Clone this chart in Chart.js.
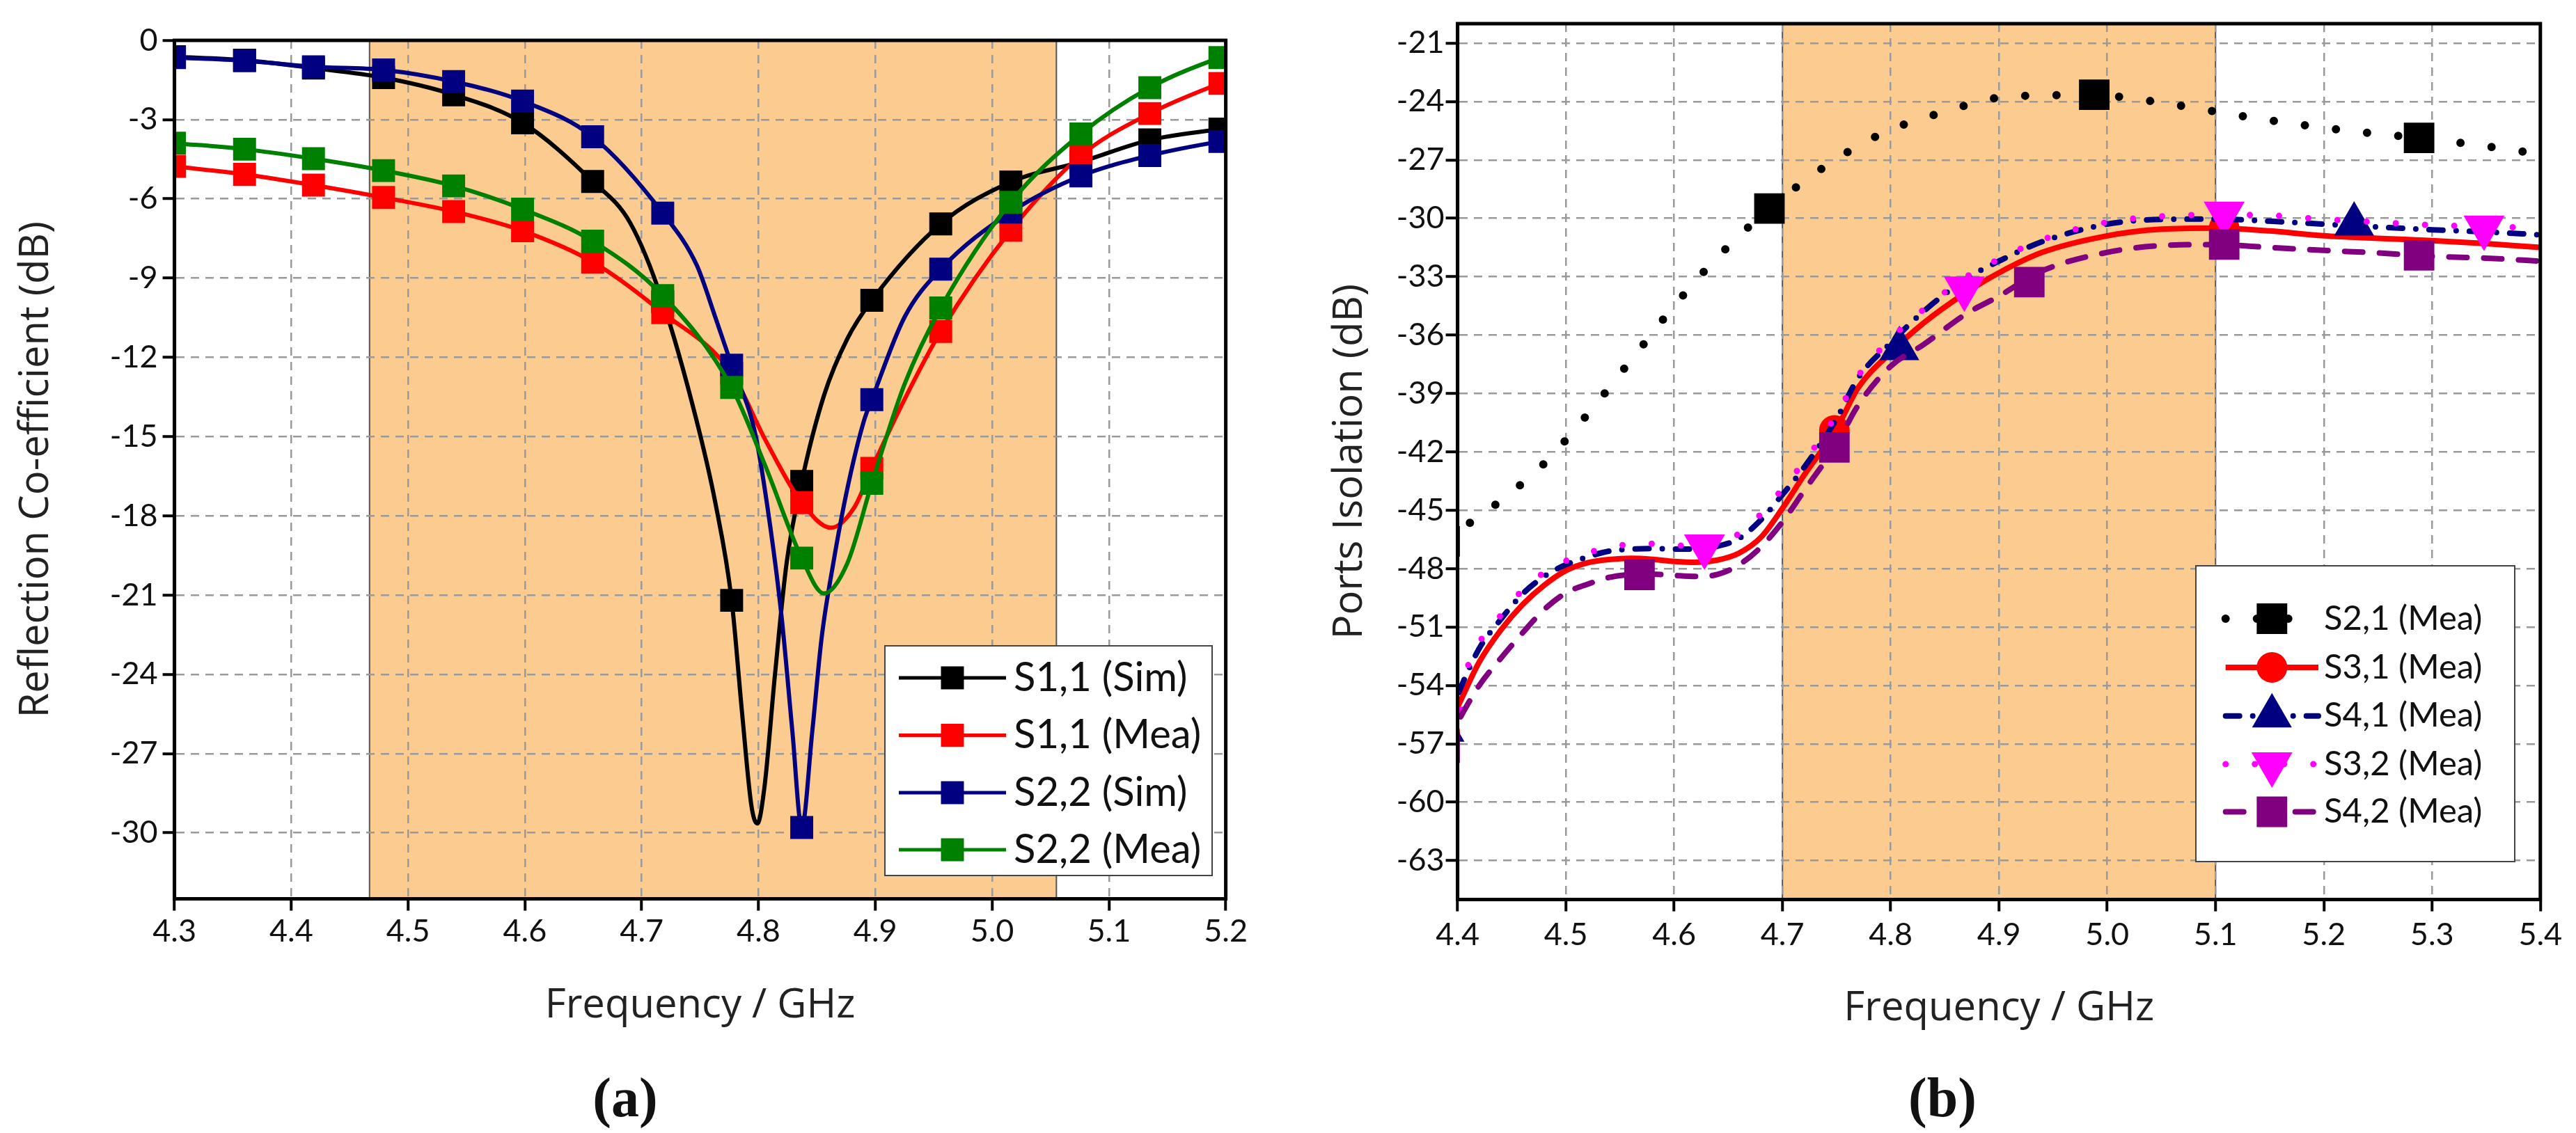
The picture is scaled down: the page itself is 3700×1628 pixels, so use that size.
<!DOCTYPE html>
<html><head><meta charset="utf-8">
<script src="https://cdn.jsdelivr.net/npm/chart.js@4/dist/chart.umd.min.js"></script>
<style>
html,body{margin:0;padding:0;background:#fff;width:3700px;height:1628px;overflow:hidden}
canvas{position:absolute;top:0}
#ca{left:0}
#cb{left:1850px}
.cap{position:absolute;font-family:'Liberation Serif','Times New Roman',serif;font-weight:bold;font-size:80px;line-height:1;color:#111;transform:translate(-50%,-50%)}
</style></head><body>
<canvas id="ca" width="1850" height="1628"></canvas>
<canvas id="cb" width="1850" height="1628"></canvas>
<div class="cap" style="left:898px;top:1577px">(a)</div>
<div class="cap" style="left:2790px;top:1577px">(b)</div>
<script>
// ---------------- Chart (a) data ----------------
const freqTicksA = [4.3,4.4,4.5,4.6,4.7,4.8,4.9,5.0,5.1,5.2];
const dbTicksA = [0,-3,-6,-9,-12,-15,-18,-21,-24,-27,-30];
const bandA = [4.467, 5.055];
const markerFreqA = [4.300,4.360,4.419,4.479,4.539,4.598,4.658,4.718,4.777,4.837,4.897,4.956,5.016,5.076,5.135,5.195];

const s11SimF  = [4.300,4.360,4.419,4.479,4.539,4.598,4.658,4.690,4.718,4.747,4.763,4.777,4.786,4.794,4.799,4.805,4.814,4.824,4.837,4.856,4.876,4.897,4.956,5.016,5.076,5.135,5.195,5.200];
const s11SimDb = [-0.62,-0.75,-1.05,-1.41,-2.06,-3.12,-5.34,-6.9,-9.9,-14.4,-17.5,-21.2,-25.5,-29.0,-29.65,-28.3,-24.05,-19.8,-16.7,-13.45,-11.3,-9.84,-6.95,-5.36,-4.6,-3.77,-3.36,-3.33];

const s11MeaF  = [4.300,4.360,4.419,4.479,4.539,4.598,4.658,4.718,4.777,4.806,4.837,4.862,4.882,4.897,4.925,4.956,5.016,5.076,5.135,5.195,5.200];
const s11MeaDb = [-4.77,-5.07,-5.48,-5.95,-6.48,-7.21,-8.39,-10.31,-12.6,-15.14,-17.5,-18.45,-17.68,-16.2,-13.59,-11.02,-7.19,-4.36,-2.77,-1.63,-1.55];

const s22SimF  = [4.300,4.360,4.419,4.479,4.539,4.598,4.658,4.718,4.747,4.763,4.777,4.797,4.810,4.820,4.829,4.837,4.846,4.854,4.864,4.876,4.890,4.897,4.925,4.956,5.016,5.076,5.135,5.195,5.200];
const s22SimDb = [-0.65,-0.77,-1.0,-1.12,-1.56,-2.30,-3.65,-6.54,-8.5,-10.48,-12.3,-14.86,-18.39,-21.92,-26.17,-29.8,-26.17,-22.63,-19.8,-16.98,-14.44,-13.6,-10.48,-8.66,-6.5,-5.13,-4.36,-3.83,-3.8];

const s22MeaF  = [4.300,4.360,4.419,4.479,4.539,4.598,4.658,4.718,4.777,4.806,4.837,4.856,4.876,4.897,4.925,4.956,5.016,5.076,5.135,5.195,5.200];
const s22MeaDb = [-3.89,-4.12,-4.48,-4.93,-5.51,-6.39,-7.60,-9.66,-13.14,-16.13,-19.6,-20.94,-19.8,-16.77,-13.02,-10.13,-6.13,-3.54,-1.79,-0.65,-0.58];

// ---------------- Chart (b) data ----------------
const freqTicksB = [4.4,4.5,4.6,4.7,4.8,4.9,5.0,5.1,5.2,5.3,5.4];
const dbTicksB = [-63,-60,-57,-54,-51,-48,-45,-42,-39,-36,-33,-30,-27,-24,-21];
const bandB = [4.7, 5.1];

const s21F  = [4.388,4.40,4.44,4.48,4.52,4.56,4.60,4.64,4.688,4.72,4.76,4.80,4.85,4.90,4.95,4.988,5.03,5.08,5.13,5.18,5.23,5.288,5.34,5.40];
const s21Db = [-46.6,-46.1,-44.5,-42.6,-40.07,-37.3,-34.5,-32.0,-29.5,-28.1,-26.6,-25.45,-24.52,-23.8,-23.68,-23.65,-23.9,-24.33,-24.8,-25.2,-25.55,-25.87,-26.22,-26.7];
const s21MarkF  = [4.388,4.688,4.988,5.288];
const s21MarkDb = [-46.6,-29.5,-23.65,-25.87];

const commonF = [4.388,4.40,4.42,4.44,4.46,4.48,4.50,4.52,4.54,4.56,4.58,4.60,4.62,4.64,4.66,4.68,4.70,4.72,4.75,4.77,4.80,4.83,4.87,4.90,4.94,5.00,5.05,5.10,5.15,5.20,5.25,5.30,5.35,5.40];
const s31Db = [-56.4,-55.1,-52.8,-51.15,-49.85,-48.85,-48.1,-47.7,-47.53,-47.47,-47.52,-47.63,-47.68,-47.56,-47.2,-46.4,-44.9,-43.2,-40.8,-38.7,-36.9,-35.4,-33.8,-32.8,-31.75,-30.9,-30.56,-30.5,-30.65,-30.9,-31.03,-31.15,-31.3,-31.5];
const s41Db = [-56.3,-54.5,-52.1,-50.6,-49.3,-48.4,-47.8,-47.4,-47.1,-47.0,-46.97,-47.0,-47.0,-46.85,-46.45,-45.5,-44.2,-42.8,-40.3,-38.2,-36.4,-34.8,-33.1,-32.2,-31.2,-30.3,-30.06,-30.04,-30.15,-30.3,-30.45,-30.59,-30.7,-30.85];
const s32Db = [-55.7,-54.2,-51.8,-50.4,-49.1,-48.2,-47.6,-47.2,-46.9,-46.75,-46.72,-46.8,-46.85,-46.7,-46.2,-45.2,-43.9,-42.5,-40.1,-38.1,-36.2,-34.7,-33.0,-32.1,-31.1,-30.2,-29.9,-29.82,-29.85,-30.05,-30.2,-30.35,-30.42,-30.5];
const s42Db = [-57.2,-55.9,-54.0,-52.6,-51.3,-50.1,-49.25,-48.8,-48.45,-48.3,-48.28,-48.35,-48.4,-48.3,-47.8,-46.9,-45.6,-44.0,-41.6,-39.6,-37.6,-36.5,-34.9,-34.0,-32.7,-31.75,-31.4,-31.35,-31.5,-31.65,-31.78,-31.95,-32.05,-32.2];

const s31MarkF  = [4.388,4.748,5.108];
const s31MarkDb = [-56.4,-40.9,-30.5];
const s41MarkF  = [4.388,4.808,5.228];
const s41MarkDb = [-56.3,-36.7,-30.3];
const s32MarkF  = [4.388,4.628,4.868,5.108,5.348];
const s32MarkDb = [-55.7,-46.85,-33.6,-29.75,-30.47];
const s42MarkF  = [4.388,4.568,4.748,4.928,5.108,5.288];
const s42MarkDb = [-57.2,-48.32,-41.77,-33.28,-31.35,-31.9];

// ---------------- helpers ----------------
const pts = (xs, ys) => xs.map((x, i) => ({x, y: ys[i]}));
const pick = (xs, ys, sel) => sel.map(f => ({x: f, y: ys[xs.findIndex(v => Math.abs(v - f) < 1e-6)]}));

function drawMarker(ctx, m, x, y) {
  ctx.save();
  ctx.fillStyle = m.color;
  ctx.beginPath();
  if (m.style === 'rect') {
    const s = m.r * Math.SQRT1_2;
    ctx.rect(x - s, y - s, 2 * s, 2 * s);
  } else if (m.style === 'circle') {
    ctx.arc(x, y, m.r, 0, Math.PI * 2);
  } else {
    let a = (m.rot || 0) * Math.PI / 180;
    for (let i = 0; i < 3; i++) {
      const px = x + Math.sin(a) * m.r, py = y - Math.cos(a) * m.r;
      if (i) ctx.lineTo(px, py); else ctx.moveTo(px, py);
      a += 2 * Math.PI / 3;
    }
    ctx.closePath();
  }
  ctx.fill();
  ctx.restore();
}

const bandPlugin = {
  id: 'band',
  beforeDraw(chart, args, o) {
    const {ctx, chartArea: a, scales: {x}} = chart;
    const x1 = x.getPixelForValue(o.from), x2 = x.getPixelForValue(o.to);
    ctx.save();
    ctx.fillStyle = '#FBCB8F';
    ctx.fillRect(x1, a.top, x2 - x1, a.bottom - a.top);
    ctx.strokeStyle = '#555';
    ctx.lineWidth = 2;
    ctx.beginPath();
    ctx.moveTo(x1, a.top); ctx.lineTo(x1, a.bottom);
    ctx.moveTo(x2, a.top); ctx.lineTo(x2, a.bottom);
    ctx.stroke();
    ctx.restore();
  }
};

const framePlugin = {
  id: 'frame',
  afterDatasetsDraw(chart) {
    const {ctx, chartArea: a} = chart;
    ctx.save();
    ctx.strokeStyle = '#000';
    ctx.lineWidth = 5;
    ctx.strokeRect(a.left, a.top, a.right - a.left, a.bottom - a.top);
    ctx.restore();
  }
};

const legendPlugin = {
  id: 'boxLegend',
  afterDraw(chart, args, o) {
    const ctx = chart.ctx;
    ctx.save();
    ctx.fillStyle = '#fff';
    ctx.fillRect(o.box[0], o.box[1], o.box[2] - o.box[0], o.box[3] - o.box[1]);
    ctx.strokeStyle = '#444';
    ctx.lineWidth = 2;
    ctx.strokeRect(o.box[0], o.box[1], o.box[2] - o.box[0], o.box[3] - o.box[1]);
    o.items.forEach((it, i) => {
      const y = o.rows[i];
      ctx.save();
      ctx.strokeStyle = it.color;
      ctx.lineWidth = it.width;
      ctx.lineCap = it.cap || 'butt';
      ctx.setLineDash(it.dash || []);
      ctx.beginPath();
      ctx.moveTo(o.lineX[0], y); ctx.lineTo(o.lineX[1], y);
      ctx.stroke();
      ctx.restore();
      drawMarker(ctx, it.marker, o.markX, y);
      ctx.fillStyle = '#111';
      ctx.font = o.font;
      ctx.textBaseline = 'middle';
      ctx.textAlign = 'left';
      ctx.fillText(it.label, o.textX, y);
    });
    ctx.restore();
  }
};

function axes(opts) {
  return {
    x: {
      type: 'linear', min: opts.xmin, max: opts.xmax,
      afterBuildTicks: ax => { ax.ticks = opts.xt.map(v => ({value: v})); },
      afterFit: ax => { ax.height = 200; },
      ticks: {callback: v => Number(v).toFixed(1), font: {family: 'Lato', size: 45}, color: '#111', padding: opts.xpad, maxRotation: 0, autoSkip: false},
      grid: {color: '#9a9a9a', lineWidth: 2.5, tickLength: 17, tickColor: '#000', tickWidth: 4},
      border: {display: true, color: '#000', width: 5, dash: [12, 9]},
      title: {display: true, text: 'Frequency / GHz', font: {family: 'Open Sans', size: 58, lineHeight: 1.2}, color: '#222', padding: {top: 0, bottom: opts.xtpad}}
    },
    y: {
      type: 'linear', min: opts.ymin, max: opts.ymax,
      afterBuildTicks: ax => { ax.ticks = opts.yt.map(v => ({value: v})); },
      afterFit: ax => { ax.width = opts.yw; },
      ticks: {callback: v => String(v), font: {family: 'Lato', size: 45}, color: '#111', padding: opts.ypad, autoSkip: false},
      grid: {color: '#9a9a9a', lineWidth: 2.5, tickLength: 17, tickColor: '#000', tickWidth: 4},
      border: {display: true, color: '#000', width: 5, dash: [12, 9]},
      title: {display: true, text: opts.ytitle, font: {family: 'Open Sans', size: 58, lineHeight: 1.2}, color: '#222', padding: {top: opts.ytpad, bottom: 0}}
    }
  };
}

// ---------------- Chart (a) ----------------
const seriesA = [
  {label: 'S1,1 (Sim)', color: '#000000', f: s11SimF, v: s11SimDb},
  {label: 'S1,1 (Mea)', color: '#FF0000', f: s11MeaF, v: s11MeaDb},
  {label: 'S2,2 (Sim)', color: '#000080', f: s22SimF, v: s22SimDb},
  {label: 'S2,2 (Mea)', color: '#008000', f: s22MeaF, v: s22MeaDb}
];
const dsA = [];
seriesA.forEach((s, k) => {
  const ord = (seriesA.length - k) * 2;
  dsA.push({type: 'line', label: s.label, data: pts(s.f, s.v), borderColor: s.color, borderWidth: 6,
    pointRadius: 0, cubicInterpolationMode: 'monotone', fill: false, order: ord + 1});
  dsA.push({type: 'line', label: s.label + ' markers', data: pick(s.f, s.v, markerFreqA), showLine: false,
    pointStyle: 'rect', pointRadius: 23.3, pointBackgroundColor: s.color, pointBorderColor: s.color, pointBorderWidth: 0, order: ord});
});

new Chart(document.getElementById('ca'), {
  type: 'line',
  data: {datasets: dsA},
  options: {
    responsive: false, animation: false, devicePixelRatio: 1,
    layout: {padding: {left: 0, top: 58, right: 89.4, bottom: 136.5}},
    scales: axes({xmin: 4.3, xmax: 5.2, xt: freqTicksA, ymin: -32.5, ymax: 0, yt: dbTicksA, yw: 250.6,
      xpad: 3, ypad: 7, xtpad: 11, ytpad: 18, ytitle: 'Reflection Co-efficient (dB)'}),
    plugins: {
      legend: {display: false}, tooltip: {enabled: false},
      band: {from: bandA[0], to: bandA[1]},
      boxLegend: {
        box: [1271, 928, 1741, 1258], rows: [974, 1056.5, 1139, 1221], lineX: [1291, 1445], markX: 1368, textX: 1456,
        font: '58px Lato',
        items: seriesA.map(s => ({label: s.label, color: s.color, width: 5, marker: {style: 'rect', r: 23.3, color: s.color}}))
      }
    }
  },
  plugins: [bandPlugin, framePlugin, legendPlugin]
});

// ---------------- Chart (b) ----------------
const seriesB = [
  {label: 'S2,1 (Mea)', color: '#000000', f: s21F, v: s21Db, mf: s21MarkF, mv: s21MarkDb, width: 12, dash: [0, 45], cap: 'round', marker: {style: 'rect', r: 31}},
  {label: 'S3,1 (Mea)', color: '#FF0000', f: commonF, v: s31Db, mf: s31MarkF, mv: s31MarkDb, width: 8, dash: [], cap: 'butt', marker: {style: 'circle', r: 22}},
  {label: 'S4,1 (Mea)', color: '#000080', f: commonF, v: s41Db, mf: s41MarkF, mv: s41MarkDb, width: 8, dash: [20, 19, 0, 19], cap: 'round', marker: {style: 'triangle', r: 33, rot: 0}},
  {label: 'S3,2 (Mea)', color: '#FF00FF', f: commonF, v: s32Db, mf: s32MarkF, mv: s32MarkDb, width: 9, dash: [0, 42], cap: 'round', marker: {style: 'triangle', r: 34, rot: 180}},
  {label: 'S4,2 (Mea)', color: '#800080', f: commonF, v: s42Db, mf: s42MarkF, mv: s42MarkDb, width: 8, dash: [26, 24], cap: 'round', marker: {style: 'rect', r: 31}}
];
const dsB = [];
seriesB.forEach((s, k) => {
  const ord = (seriesB.length - k) * 2;
  dsB.push({type: 'line', label: s.label, data: pts(s.f, s.v), borderColor: s.color, borderWidth: s.width,
    borderDash: s.dash, borderCapStyle: s.cap, pointRadius: 0, cubicInterpolationMode: 'monotone', fill: false, order: ord + 1});
  dsB.push({type: 'line', label: s.label + ' markers', data: pts(s.mf, s.mv), showLine: false,
    pointStyle: s.marker.style, pointRotation: s.marker.rot || 0, pointRadius: s.marker.r,
    pointBackgroundColor: s.color, pointBorderColor: s.color, pointBorderWidth: 0, order: ord});
});

new Chart(document.getElementById('cb'), {
  type: 'line',
  data: {datasets: dsB},
  options: {
    responsive: false, animation: false, devicePixelRatio: 1,
    layout: {padding: {left: 0, top: 26.8, right: 51.2, bottom: 135.5}},
    scales: axes({xmin: 4.4, xmax: 5.4, xt: freqTicksB, ymin: -65, ymax: -20, yt: dbTicksB, yw: 243.6,
      xpad: 7, ypad: 2, xtpad: 8, ytpad: 55, ytitle: 'Ports Isolation (dB)'}),
    plugins: {
      legend: {display: false}, tooltip: {enabled: false},
      band: {from: bandB[0], to: bandB[1]},
      boxLegend: {
        box: [1304, 813, 1762, 1238], rows: [889, 959, 1028.7, 1098, 1166.5], lineX: [1346.7, 1480], markX: 1413.3, textX: 1488,
        font: '49px Lato',
        items: seriesB.map(s => ({label: s.label, color: s.color, width: s.width, dash: s.dash, cap: s.cap,
          marker: Object.assign({color: s.color}, s.marker)}))
      }
    }
  },
  plugins: [bandPlugin, framePlugin, legendPlugin]
});
</script>
</body></html>
